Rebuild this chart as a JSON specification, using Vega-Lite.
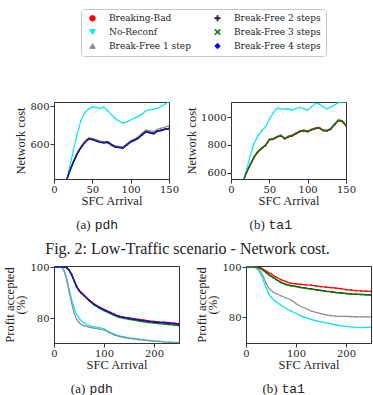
{
 "$schema": "https://vega.github.io/schema/vega-lite/v6.json",
 "padding": {"left": 3, "top": 8, "right": 0, "bottom": 0},
 "background": "white",
 "config": {
  "font": "Liberation Serif",
  "view": {"stroke": "#333", "strokeWidth": 1},
  "axis": {"grid": false, "domainColor": "#333", "tickColor": "#333", "tickSize": 4, "labelFont": "DejaVu Serif", "labelFontSize": 10, "labelColor": "#222", "labelPadding": 1, "labelFlush": false, "titleFont": "Liberation Serif", "titleFontSize": 12.5, "titleFontWeight": "normal", "titleColor": "#222", "format": "d"},
  "axisX": {"titlePadding": 0},
  "axisY": {"titlePadding": 2},
  "title": {"font": "Liberation Serif", "fontWeight": "normal", "color": "#222", "fontSize": 13, "subtitleFont": "Liberation Mono", "subtitleFontSize": 13, "subtitleColor": "#222", "subtitlePadding": -13},
  "legend": {"orient": "none", "legendX": 27, "legendY": -93, "columns": 2, "symbolSize": 30, "symbolStrokeWidth": 1, "symbolOffset": 2.5, "labelOffset": 12, "labelFont": "DejaVu Serif", "labelFontSize": 9, "labelColor": "#222", "rowPadding": 3, "columnPadding": 19, "padding": 4.5, "strokeColor": "#c8c8c8", "fillColor": "white", "cornerRadius": 3}
 },
 "datasets": {
  "costPdh": [
   {"x":15,"Breaking-Bad":393,"No-Reconf":392,"Break-Free 1 step":393,"Break-Free 2 steps":394,"Break-Free 3 steps":393,"Break-Free 4 steps":392},
   {"x":17,"Breaking-Bad":417,"No-Reconf":415,"Break-Free 1 step":418,"Break-Free 2 steps":418,"Break-Free 3 steps":416,"Break-Free 4 steps":415},
   {"x":20,"Breaking-Bad":452,"No-Reconf":470,"Break-Free 1 step":455,"Break-Free 2 steps":453,"Break-Free 3 steps":451,"Break-Free 4 steps":450},
   {"x":25,"Breaking-Bad":502,"No-Reconf":560,"Break-Free 1 step":505,"Break-Free 2 steps":503,"Break-Free 3 steps":501,"Break-Free 4 steps":500},
   {"x":30,"Breaking-Bad":547,"No-Reconf":648,"Break-Free 1 step":550,"Break-Free 2 steps":548,"Break-Free 3 steps":546,"Break-Free 4 steps":545},
   {"x":35,"Breaking-Bad":582,"No-Reconf":722,"Break-Free 1 step":587,"Break-Free 2 steps":583,"Break-Free 3 steps":581,"Break-Free 4 steps":580},
   {"x":40,"Breaking-Bad":608,"No-Reconf":765,"Break-Free 1 step":613,"Break-Free 2 steps":609,"Break-Free 3 steps":607,"Break-Free 4 steps":606},
   {"x":45,"Breaking-Bad":627,"No-Reconf":785,"Break-Free 1 step":632,"Break-Free 2 steps":628,"Break-Free 3 steps":626,"Break-Free 4 steps":625},
   {"x":50,"Breaking-Bad":625,"No-Reconf":796,"Break-Free 1 step":630,"Break-Free 2 steps":626,"Break-Free 3 steps":624,"Break-Free 4 steps":623},
   {"x":55,"Breaking-Bad":618,"No-Reconf":793,"Break-Free 1 step":622,"Break-Free 2 steps":619,"Break-Free 3 steps":617,"Break-Free 4 steps":616},
   {"x":60,"Breaking-Bad":611,"No-Reconf":787,"Break-Free 1 step":616,"Break-Free 2 steps":612,"Break-Free 3 steps":610,"Break-Free 4 steps":609},
   {"x":65,"Breaking-Bad":608,"No-Reconf":795,"Break-Free 1 step":612,"Break-Free 2 steps":609,"Break-Free 3 steps":607,"Break-Free 4 steps":606},
   {"x":70,"Breaking-Bad":610,"No-Reconf":776,"Break-Free 1 step":614,"Break-Free 2 steps":611,"Break-Free 3 steps":609,"Break-Free 4 steps":608},
   {"x":75,"Breaking-Bad":596,"No-Reconf":755,"Break-Free 1 step":600,"Break-Free 2 steps":597,"Break-Free 3 steps":595,"Break-Free 4 steps":594},
   {"x":80,"Breaking-Bad":585,"No-Reconf":735,"Break-Free 1 step":590,"Break-Free 2 steps":586,"Break-Free 3 steps":584,"Break-Free 4 steps":583},
   {"x":85,"Breaking-Bad":583,"No-Reconf":720,"Break-Free 1 step":587,"Break-Free 2 steps":584,"Break-Free 3 steps":582,"Break-Free 4 steps":581},
   {"x":90,"Breaking-Bad":580,"No-Reconf":711,"Break-Free 1 step":584,"Break-Free 2 steps":581,"Break-Free 3 steps":579,"Break-Free 4 steps":578},
   {"x":95,"Breaking-Bad":596,"No-Reconf":717,"Break-Free 1 step":600,"Break-Free 2 steps":597,"Break-Free 3 steps":595,"Break-Free 4 steps":594},
   {"x":100,"Breaking-Bad":612,"No-Reconf":727,"Break-Free 1 step":617,"Break-Free 2 steps":613,"Break-Free 3 steps":611,"Break-Free 4 steps":610},
   {"x":105,"Breaking-Bad":621,"No-Reconf":737,"Break-Free 1 step":627,"Break-Free 2 steps":622,"Break-Free 3 steps":620,"Break-Free 4 steps":619},
   {"x":110,"Breaking-Bad":632,"No-Reconf":746,"Break-Free 1 step":639,"Break-Free 2 steps":633,"Break-Free 3 steps":631,"Break-Free 4 steps":630},
   {"x":115,"Breaking-Bad":650,"No-Reconf":757,"Break-Free 1 step":658,"Break-Free 2 steps":651,"Break-Free 3 steps":649,"Break-Free 4 steps":648},
   {"x":120,"Breaking-Bad":666,"No-Reconf":777,"Break-Free 1 step":674,"Break-Free 2 steps":667,"Break-Free 3 steps":665,"Break-Free 4 steps":664},
   {"x":125,"Breaking-Bad":661,"No-Reconf":781,"Break-Free 1 step":669,"Break-Free 2 steps":662,"Break-Free 3 steps":660,"Break-Free 4 steps":659},
   {"x":130,"Breaking-Bad":656,"No-Reconf":783,"Break-Free 1 step":665,"Break-Free 2 steps":657,"Break-Free 3 steps":655,"Break-Free 4 steps":654},
   {"x":135,"Breaking-Bad":669,"No-Reconf":789,"Break-Free 1 step":678,"Break-Free 2 steps":670,"Break-Free 3 steps":668,"Break-Free 4 steps":667},
   {"x":140,"Breaking-Bad":673,"No-Reconf":800,"Break-Free 1 step":684,"Break-Free 2 steps":674,"Break-Free 3 steps":672,"Break-Free 4 steps":671},
   {"x":145,"Breaking-Bad":679,"No-Reconf":810,"Break-Free 1 step":690,"Break-Free 2 steps":680,"Break-Free 3 steps":678,"Break-Free 4 steps":677},
   {"x":150,"Breaking-Bad":682,"No-Reconf":826,"Break-Free 1 step":696,"Break-Free 2 steps":683,"Break-Free 3 steps":681,"Break-Free 4 steps":680}
  ],
  "costTa1": [
   {"x":15,"Breaking-Bad":518,"No-Reconf":516,"Break-Free 1 step":521,"Break-Free 2 steps":519,"Break-Free 3 steps":520},
   {"x":17,"Breaking-Bad":551,"No-Reconf":553,"Break-Free 1 step":556,"Break-Free 2 steps":552,"Break-Free 3 steps":553},
   {"x":20,"Breaking-Bad":597,"No-Reconf":610,"Break-Free 1 step":604,"Break-Free 2 steps":599,"Break-Free 3 steps":600},
   {"x":25,"Breaking-Bad":652,"No-Reconf":720,"Break-Free 1 step":659,"Break-Free 2 steps":654,"Break-Free 3 steps":655},
   {"x":30,"Breaking-Bad":709,"No-Reconf":810,"Break-Free 1 step":716,"Break-Free 2 steps":711,"Break-Free 3 steps":712},
   {"x":35,"Breaking-Bad":747,"No-Reconf":865,"Break-Free 1 step":754,"Break-Free 2 steps":749,"Break-Free 3 steps":750},
   {"x":40,"Breaking-Bad":773,"No-Reconf":900,"Break-Free 1 step":780,"Break-Free 2 steps":775,"Break-Free 3 steps":776},
   {"x":45,"Breaking-Bad":794,"No-Reconf":930,"Break-Free 1 step":801,"Break-Free 2 steps":796,"Break-Free 3 steps":797},
   {"x":50,"Breaking-Bad":835,"No-Reconf":985,"Break-Free 1 step":842,"Break-Free 2 steps":837,"Break-Free 3 steps":838},
   {"x":55,"Breaking-Bad":840,"No-Reconf":1030,"Break-Free 1 step":847,"Break-Free 2 steps":842,"Break-Free 3 steps":843},
   {"x":60,"Breaking-Bad":855,"No-Reconf":1065,"Break-Free 1 step":862,"Break-Free 2 steps":857,"Break-Free 3 steps":858},
   {"x":65,"Breaking-Bad":865,"No-Reconf":1062,"Break-Free 1 step":872,"Break-Free 2 steps":867,"Break-Free 3 steps":868},
   {"x":70,"Breaking-Bad":843,"No-Reconf":1058,"Break-Free 1 step":850,"Break-Free 2 steps":845,"Break-Free 3 steps":846},
   {"x":75,"Breaking-Bad":857,"No-Reconf":1060,"Break-Free 1 step":864,"Break-Free 2 steps":859,"Break-Free 3 steps":860},
   {"x":80,"Breaking-Bad":865,"No-Reconf":1050,"Break-Free 1 step":872,"Break-Free 2 steps":867,"Break-Free 3 steps":868},
   {"x":85,"Breaking-Bad":881,"No-Reconf":1065,"Break-Free 1 step":888,"Break-Free 2 steps":883,"Break-Free 3 steps":884},
   {"x":90,"Breaking-Bad":895,"No-Reconf":1070,"Break-Free 1 step":902,"Break-Free 2 steps":897,"Break-Free 3 steps":898},
   {"x":95,"Breaking-Bad":901,"No-Reconf":1062,"Break-Free 1 step":908,"Break-Free 2 steps":903,"Break-Free 3 steps":904},
   {"x":100,"Breaking-Bad":894,"No-Reconf":1052,"Break-Free 1 step":901,"Break-Free 2 steps":896,"Break-Free 3 steps":897},
   {"x":105,"Breaking-Bad":907,"No-Reconf":1075,"Break-Free 1 step":914,"Break-Free 2 steps":909,"Break-Free 3 steps":910},
   {"x":110,"Breaking-Bad":917,"No-Reconf":1100,"Break-Free 1 step":924,"Break-Free 2 steps":919,"Break-Free 3 steps":920},
   {"x":115,"Breaking-Bad":921,"No-Reconf":1095,"Break-Free 1 step":928,"Break-Free 2 steps":923,"Break-Free 3 steps":924},
   {"x":120,"Breaking-Bad":903,"No-Reconf":1075,"Break-Free 1 step":910,"Break-Free 2 steps":905,"Break-Free 3 steps":906},
   {"x":125,"Breaking-Bad":899,"No-Reconf":1060,"Break-Free 1 step":906,"Break-Free 2 steps":901,"Break-Free 3 steps":902},
   {"x":130,"Breaking-Bad":912,"No-Reconf":1072,"Break-Free 1 step":919,"Break-Free 2 steps":914,"Break-Free 3 steps":915},
   {"x":135,"Breaking-Bad":945,"No-Reconf":1088,"Break-Free 1 step":952,"Break-Free 2 steps":947,"Break-Free 3 steps":948},
   {"x":140,"Breaking-Bad":975,"No-Reconf":1105,"Break-Free 1 step":982,"Break-Free 2 steps":977,"Break-Free 3 steps":978},
   {"x":145,"Breaking-Bad":969,"No-Reconf":1110,"Break-Free 1 step":976,"Break-Free 2 steps":971,"Break-Free 3 steps":972},
   {"x":150,"Breaking-Bad":937,"No-Reconf":1112,"Break-Free 1 step":944,"Break-Free 2 steps":939,"Break-Free 3 steps":940}
  ],
  "profitPdh": [
   {"x":0,"Breaking-Bad":100,"No-Reconf":100,"Break-Free 1 step":100,"Break-Free 2 steps":100,"Break-Free 3 steps":100,"Break-Free 4 steps":100},
   {"x":10,"Breaking-Bad":100,"No-Reconf":100,"Break-Free 1 step":100,"Break-Free 2 steps":100,"Break-Free 3 steps":100,"Break-Free 4 steps":100},
   {"x":15,"Breaking-Bad":100,"No-Reconf":100,"Break-Free 1 step":100,"Break-Free 2 steps":100,"Break-Free 3 steps":100,"Break-Free 4 steps":100},
   {"x":20,"Breaking-Bad":100,"No-Reconf":98.8,"Break-Free 1 step":98.5,"Break-Free 2 steps":100,"Break-Free 3 steps":100,"Break-Free 4 steps":100},
   {"x":25,"Breaking-Bad":99.8,"No-Reconf":96.0,"Break-Free 1 step":95.2,"Break-Free 2 steps":99.8,"Break-Free 3 steps":99.8,"Break-Free 4 steps":99.8},
   {"x":30,"Breaking-Bad":98.8,"No-Reconf":91.5,"Break-Free 1 step":90.5,"Break-Free 2 steps":98.8,"Break-Free 3 steps":98.7,"Break-Free 4 steps":98.8},
   {"x":35,"Breaking-Bad":97.3,"No-Reconf":87.5,"Break-Free 1 step":86.0,"Break-Free 2 steps":97.1,"Break-Free 3 steps":97.0,"Break-Free 4 steps":97.2},
   {"x":40,"Breaking-Bad":94.9,"No-Reconf":84.0,"Break-Free 1 step":82.0,"Break-Free 2 steps":94.7,"Break-Free 3 steps":94.6,"Break-Free 4 steps":94.8},
   {"x":45,"Breaking-Bad":92.6,"No-Reconf":81.5,"Break-Free 1 step":79.5,"Break-Free 2 steps":92.4,"Break-Free 3 steps":92.3,"Break-Free 4 steps":92.5},
   {"x":50,"Breaking-Bad":90.9,"No-Reconf":80.0,"Break-Free 1 step":78.2,"Break-Free 2 steps":90.7,"Break-Free 3 steps":90.6,"Break-Free 4 steps":90.8},
   {"x":55,"Breaking-Bad":89.9,"No-Reconf":78.8,"Break-Free 1 step":77.5,"Break-Free 2 steps":89.7,"Break-Free 3 steps":89.6,"Break-Free 4 steps":89.8},
   {"x":60,"Breaking-Bad":89.0,"No-Reconf":78.0,"Break-Free 1 step":77.0,"Break-Free 2 steps":88.8,"Break-Free 3 steps":88.7,"Break-Free 4 steps":88.9},
   {"x":70,"Breaking-Bad":87.2,"No-Reconf":77.0,"Break-Free 1 step":76.4,"Break-Free 2 steps":86.9,"Break-Free 3 steps":86.7,"Break-Free 4 steps":87.0},
   {"x":80,"Breaking-Bad":85.6,"No-Reconf":76.6,"Break-Free 1 step":76.0,"Break-Free 2 steps":85.3,"Break-Free 3 steps":85.1,"Break-Free 4 steps":85.4},
   {"x":90,"Breaking-Bad":84.4,"No-Reconf":76.2,"Break-Free 1 step":75.7,"Break-Free 2 steps":84.1,"Break-Free 3 steps":83.9,"Break-Free 4 steps":84.2},
   {"x":100,"Breaking-Bad":83.4,"No-Reconf":75.8,"Break-Free 1 step":75.3,"Break-Free 2 steps":83.1,"Break-Free 3 steps":82.9,"Break-Free 4 steps":83.2},
   {"x":110,"Breaking-Bad":82.5,"No-Reconf":74.6,"Break-Free 1 step":74.3,"Break-Free 2 steps":82.2,"Break-Free 3 steps":82.0,"Break-Free 4 steps":82.3},
   {"x":120,"Breaking-Bad":81.6,"No-Reconf":73.7,"Break-Free 1 step":73.4,"Break-Free 2 steps":81.3,"Break-Free 3 steps":81.0,"Break-Free 4 steps":81.4},
   {"x":130,"Breaking-Bad":80.8,"No-Reconf":73.0,"Break-Free 1 step":72.8,"Break-Free 2 steps":80.5,"Break-Free 3 steps":80.2,"Break-Free 4 steps":80.6},
   {"x":140,"Breaking-Bad":80.4,"No-Reconf":72.6,"Break-Free 1 step":72.4,"Break-Free 2 steps":80.1,"Break-Free 3 steps":79.8,"Break-Free 4 steps":80.2},
   {"x":150,"Breaking-Bad":80.1,"No-Reconf":72.2,"Break-Free 1 step":72.0,"Break-Free 2 steps":79.8,"Break-Free 3 steps":79.5,"Break-Free 4 steps":79.9},
   {"x":160,"Breaking-Bad":79.8,"No-Reconf":72.0,"Break-Free 1 step":71.8,"Break-Free 2 steps":79.5,"Break-Free 3 steps":79.2,"Break-Free 4 steps":79.6},
   {"x":170,"Breaking-Bad":79.5,"No-Reconf":71.7,"Break-Free 1 step":71.5,"Break-Free 2 steps":79.2,"Break-Free 3 steps":78.8,"Break-Free 4 steps":79.3},
   {"x":180,"Breaking-Bad":79.2,"No-Reconf":71.4,"Break-Free 1 step":71.3,"Break-Free 2 steps":78.9,"Break-Free 3 steps":78.5,"Break-Free 4 steps":79.0},
   {"x":190,"Breaking-Bad":78.9,"No-Reconf":71.2,"Break-Free 1 step":71.1,"Break-Free 2 steps":78.6,"Break-Free 3 steps":78.2,"Break-Free 4 steps":78.7},
   {"x":200,"Breaking-Bad":78.7,"No-Reconf":71.0,"Break-Free 1 step":70.9,"Break-Free 2 steps":78.4,"Break-Free 3 steps":78.0,"Break-Free 4 steps":78.5},
   {"x":210,"Breaking-Bad":78.5,"No-Reconf":70.9,"Break-Free 1 step":70.8,"Break-Free 2 steps":78.2,"Break-Free 3 steps":77.8,"Break-Free 4 steps":78.3},
   {"x":220,"Breaking-Bad":78.4,"No-Reconf":70.7,"Break-Free 1 step":70.6,"Break-Free 2 steps":78.1,"Break-Free 3 steps":77.6,"Break-Free 4 steps":78.2},
   {"x":230,"Breaking-Bad":78.2,"No-Reconf":70.6,"Break-Free 1 step":70.5,"Break-Free 2 steps":77.9,"Break-Free 3 steps":77.4,"Break-Free 4 steps":78.0},
   {"x":240,"Breaking-Bad":78.0,"No-Reconf":70.5,"Break-Free 1 step":70.4,"Break-Free 2 steps":77.7,"Break-Free 3 steps":77.2,"Break-Free 4 steps":77.8},
   {"x":250,"Breaking-Bad":77.8,"No-Reconf":70.4,"Break-Free 1 step":70.3,"Break-Free 2 steps":77.5,"Break-Free 3 steps":77.0,"Break-Free 4 steps":77.6}
  ],
  "profitTa1": [
   {"x":0,"Breaking-Bad":100,"No-Reconf":100,"Break-Free 1 step":100,"Break-Free 2 steps":100,"Break-Free 3 steps":100},
   {"x":10,"Breaking-Bad":100,"No-Reconf":100,"Break-Free 1 step":100,"Break-Free 2 steps":100,"Break-Free 3 steps":100},
   {"x":15,"Breaking-Bad":100,"No-Reconf":100,"Break-Free 1 step":100,"Break-Free 2 steps":100,"Break-Free 3 steps":100},
   {"x":20,"Breaking-Bad":100,"No-Reconf":99.6,"Break-Free 1 step":99.8,"Break-Free 2 steps":100,"Break-Free 3 steps":100},
   {"x":25,"Breaking-Bad":99.9,"No-Reconf":98.8,"Break-Free 1 step":99.2,"Break-Free 2 steps":99.8,"Break-Free 3 steps":99.8},
   {"x":30,"Breaking-Bad":99.6,"No-Reconf":97.0,"Break-Free 1 step":98.0,"Break-Free 2 steps":99.4,"Break-Free 3 steps":99.3},
   {"x":35,"Breaking-Bad":99.0,"No-Reconf":94.5,"Break-Free 1 step":96.0,"Break-Free 2 steps":98.7,"Break-Free 3 steps":98.6},
   {"x":40,"Breaking-Bad":98.4,"No-Reconf":91.8,"Break-Free 1 step":93.5,"Break-Free 2 steps":97.9,"Break-Free 3 steps":97.8},
   {"x":45,"Breaking-Bad":97.8,"No-Reconf":89.5,"Break-Free 1 step":91.8,"Break-Free 2 steps":97.1,"Break-Free 3 steps":97.0},
   {"x":50,"Breaking-Bad":97.4,"No-Reconf":88.0,"Break-Free 1 step":90.8,"Break-Free 2 steps":96.4,"Break-Free 3 steps":96.3},
   {"x":55,"Breaking-Bad":96.6,"No-Reconf":87.0,"Break-Free 1 step":90.0,"Break-Free 2 steps":95.7,"Break-Free 3 steps":95.6},
   {"x":60,"Breaking-Bad":96.0,"No-Reconf":86.2,"Break-Free 1 step":89.5,"Break-Free 2 steps":95.1,"Break-Free 3 steps":95.0},
   {"x":70,"Breaking-Bad":95.0,"No-Reconf":84.8,"Break-Free 1 step":88.6,"Break-Free 2 steps":93.9,"Break-Free 3 steps":93.8},
   {"x":80,"Breaking-Bad":94.2,"No-Reconf":83.5,"Break-Free 1 step":87.8,"Break-Free 2 steps":93.1,"Break-Free 3 steps":93.0},
   {"x":90,"Breaking-Bad":93.5,"No-Reconf":82.5,"Break-Free 1 step":87.0,"Break-Free 2 steps":92.6,"Break-Free 3 steps":92.5},
   {"x":100,"Breaking-Bad":93.3,"No-Reconf":81.5,"Break-Free 1 step":85.5,"Break-Free 2 steps":92.3,"Break-Free 3 steps":92.2},
   {"x":110,"Breaking-Bad":93.1,"No-Reconf":80.5,"Break-Free 1 step":84.3,"Break-Free 2 steps":91.9,"Break-Free 3 steps":91.8},
   {"x":120,"Breaking-Bad":92.9,"No-Reconf":79.8,"Break-Free 1 step":83.5,"Break-Free 2 steps":91.6,"Break-Free 3 steps":91.5},
   {"x":130,"Breaking-Bad":92.8,"No-Reconf":79.2,"Break-Free 1 step":82.5,"Break-Free 2 steps":91.3,"Break-Free 3 steps":91.2},
   {"x":140,"Breaking-Bad":92.5,"No-Reconf":78.6,"Break-Free 1 step":82.0,"Break-Free 2 steps":91.0,"Break-Free 3 steps":90.9},
   {"x":150,"Breaking-Bad":92.2,"No-Reconf":78.2,"Break-Free 1 step":81.5,"Break-Free 2 steps":90.7,"Break-Free 3 steps":90.6},
   {"x":160,"Breaking-Bad":92.0,"No-Reconf":77.8,"Break-Free 1 step":81.0,"Break-Free 2 steps":90.4,"Break-Free 3 steps":90.3},
   {"x":170,"Breaking-Bad":91.8,"No-Reconf":77.4,"Break-Free 1 step":80.7,"Break-Free 2 steps":90.2,"Break-Free 3 steps":90.1},
   {"x":180,"Breaking-Bad":91.6,"No-Reconf":77.0,"Break-Free 1 step":80.5,"Break-Free 2 steps":89.9,"Break-Free 3 steps":89.8},
   {"x":190,"Breaking-Bad":91.4,"No-Reconf":76.6,"Break-Free 1 step":80.4,"Break-Free 2 steps":89.7,"Break-Free 3 steps":89.6},
   {"x":200,"Breaking-Bad":91.0,"No-Reconf":76.4,"Break-Free 1 step":80.4,"Break-Free 2 steps":89.5,"Break-Free 3 steps":89.4},
   {"x":210,"Breaking-Bad":90.8,"No-Reconf":76.2,"Break-Free 1 step":80.3,"Break-Free 2 steps":89.3,"Break-Free 3 steps":89.2},
   {"x":220,"Breaking-Bad":90.6,"No-Reconf":76.0,"Break-Free 1 step":80.2,"Break-Free 2 steps":89.2,"Break-Free 3 steps":89.1},
   {"x":230,"Breaking-Bad":90.5,"No-Reconf":75.9,"Break-Free 1 step":80.2,"Break-Free 2 steps":89.1,"Break-Free 3 steps":89.0},
   {"x":240,"Breaking-Bad":90.4,"No-Reconf":76.0,"Break-Free 1 step":80.2,"Break-Free 2 steps":89.0,"Break-Free 3 steps":88.9},
   {"x":250,"Breaking-Bad":90.3,"No-Reconf":76.0,"Break-Free 1 step":80.2,"Break-Free 2 steps":88.9,"Break-Free 3 steps":88.8}
  ]
 },
 "columns": 1,
 "align": "none",
 "spacing": 8,
 "concat": [
  {
   "columns": 2,
   "align": "none",
   "spacing": 5,
   "concat": [
    {
     "width": 115, "height": 77,
     "title": {"text": "(a)\u00a0\u00a0\u00a0\u00a0\u00a0\u00a0\u00a0\u200b", "subtitle": "\u200b\u00a0\u00a0\u00a0pdh", "orient": "bottom", "anchor": "middle", "frame": "bounds", "offset": 12, "dx": -2},
     "data": {"name": "costPdh"},
     "transform": [{"fold": ["Breaking-Bad", "No-Reconf", "Break-Free 1 step", "Break-Free 2 steps", "Break-Free 3 steps", "Break-Free 4 steps"], "as": ["series", "value"]}],
     "encoding": {
      "x": {"field": "x", "type": "quantitative", "scale": {"domain": [0, 150], "nice": false, "zero": false}, "axis": {"values": [0, 50, 100, 150], "title": "SFC Arrival"}},
      "y": {"field": "value", "type": "quantitative", "scale": {"domain": [415, 822], "nice": false, "zero": false}, "axis": {"values": [600, 800], "title": "Network cost"}},
      "color": {"field": "series", "type": "nominal", "title": null, "scale": {"domain": ["Breaking-Bad", "No-Reconf", "Break-Free 1 step", "Break-Free 2 steps", "Break-Free 3 steps", "Break-Free 4 steps"], "range": ["#ff0000", "#00e8f0", "#8c8c8c", "#222222", "#008000", "#0000ff"]}}
     },
     "layer": [
      {"mark": {"type": "line", "strokeWidth": 1.2, "clip": true}},
      {"mark": {"type": "point", "filled": true, "opacity": 1, "size": 3, "clip": true},
       "encoding": {"shape": {"field": "series", "type": "nominal", "title": null, "scale": {"domain": ["Breaking-Bad", "No-Reconf", "Break-Free 1 step", "Break-Free 2 steps", "Break-Free 3 steps", "Break-Free 4 steps"], "range": ["circle", "triangle-down", "triangle-up", "M-1,-0.15H-0.15V-1H0.15V-0.15H1V0.15H0.15V1H-0.15V0.15H-1Z", "M-1,-0.75L-0.75,-1L0,-0.25L0.75,-1L1,-0.75L0.25,0L1,0.75L0.75,1L0,0.25L-0.75,1L-1,0.75L-0.25,0Z", "diamond"]}}}}
     ]
    },
    {
     "width": 115, "height": 77,
     "title": {"text": "(b)\u00a0\u00a0\u00a0\u00a0\u00a0\u00a0\u00a0\u200b", "subtitle": "\u200b\u00a0\u00a0\u00a0ta1", "orient": "bottom", "anchor": "middle", "frame": "bounds", "offset": 12, "dx": -2},
     "data": {"name": "costTa1"},
     "transform": [{"fold": ["Breaking-Bad", "No-Reconf", "Break-Free 1 step", "Break-Free 2 steps", "Break-Free 3 steps"], "as": ["series", "value"]}],
     "encoding": {
      "x": {"field": "x", "type": "quantitative", "scale": {"domain": [0, 150], "nice": false, "zero": false}, "axis": {"values": [0, 50, 100, 150], "title": "SFC Arrival"}},
      "y": {"field": "value", "type": "quantitative", "scale": {"domain": [553, 1110], "nice": false, "zero": false}, "axis": {"values": [600, 800, 1000], "title": "Network cost"}},
      "color": {"field": "series", "type": "nominal", "title": null}
     },
     "layer": [
      {"mark": {"type": "line", "strokeWidth": 1.2, "clip": true}},
      {"mark": {"type": "point", "filled": true, "opacity": 1, "size": 3, "clip": true},
       "encoding": {"shape": {"field": "series", "type": "nominal", "title": null}}}
     ]
    }
   ]
  },
  {
   "columns": 2,
   "align": "none",
   "spacing": 15,
   "title": {"text": "Fig. 2: Low-Traffic scenario - Network cost.", "orient": "top", "anchor": "middle", "offset": 5, "fontSize": 16},
   "concat": [
    {
     "width": 125, "height": 77,
     "title": {"text": "(a)\u00a0\u00a0\u00a0\u00a0\u00a0\u00a0\u00a0\u200b", "subtitle": "\u200b\u00a0\u00a0\u00a0pdh", "orient": "bottom", "anchor": "middle", "frame": "bounds", "offset": 12, "dx": -2},
     "data": {"name": "profitPdh"},
     "transform": [{"fold": ["Breaking-Bad", "No-Reconf", "Break-Free 1 step", "Break-Free 2 steps", "Break-Free 3 steps", "Break-Free 4 steps"], "as": ["series", "value"]}],
     "encoding": {
      "x": {"field": "x", "type": "quantitative", "scale": {"domain": [0, 250], "nice": false, "zero": false}, "axis": {"values": [0, 100, 200], "title": "SFC Arrival"}},
      "y": {"field": "value", "type": "quantitative", "scale": {"domain": [70.2, 100.4], "nice": false, "zero": false}, "axis": {"values": [80, 100], "title": ["Profit accepted", "(%)"], "titleLineHeight": 11}},
      "color": {"field": "series", "type": "nominal", "title": null}
     },
     "layer": [
      {"mark": {"type": "line", "strokeWidth": 1.2, "clip": true}},
      {"mark": {"type": "point", "filled": true, "opacity": 1, "size": 3, "clip": true},
       "encoding": {"shape": {"field": "series", "type": "nominal", "title": null}}}
     ]
    },
    {
     "width": 125, "height": 77,
     "title": {"text": "(b)\u00a0\u00a0\u00a0\u00a0\u00a0\u00a0\u00a0\u200b", "subtitle": "\u200b\u00a0\u00a0\u00a0ta1", "orient": "bottom", "anchor": "middle", "frame": "bounds", "offset": 12, "dx": -2},
     "data": {"name": "profitTa1"},
     "transform": [{"fold": ["Breaking-Bad", "No-Reconf", "Break-Free 1 step", "Break-Free 2 steps", "Break-Free 3 steps"], "as": ["series", "value"]}],
     "encoding": {
      "x": {"field": "x", "type": "quantitative", "scale": {"domain": [0, 250], "nice": false, "zero": false}, "axis": {"values": [0, 100, 200], "title": "SFC Arrival"}},
      "y": {"field": "value", "type": "quantitative", "scale": {"domain": [69.8, 100.4], "nice": false, "zero": false}, "axis": {"values": [80, 100], "title": ["Profit accepted", "(%)"], "titleLineHeight": 11}},
      "color": {"field": "series", "type": "nominal", "title": null}
     },
     "layer": [
      {"mark": {"type": "line", "strokeWidth": 1.2, "clip": true}},
      {"mark": {"type": "point", "filled": true, "opacity": 1, "size": 3, "clip": true},
       "encoding": {"shape": {"field": "series", "type": "nominal", "title": null}}}
     ]
    }
   ]
  }
 ]
}
